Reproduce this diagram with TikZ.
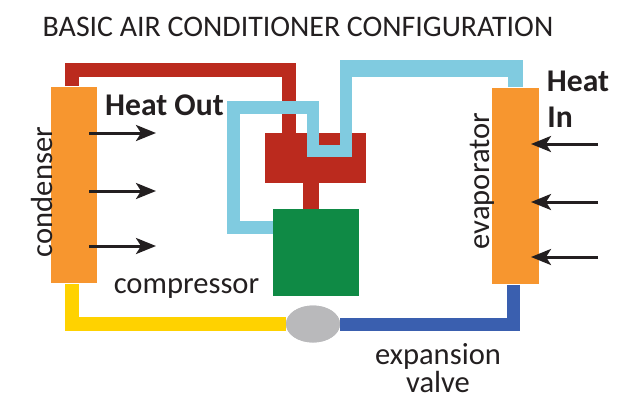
\documentclass[tikz,border=0pt]{standalone}
\usepackage{fontspec}
\setmainfont{Carlito}
\usetikzlibrary{arrows.meta,shapes.geometric}
\definecolor{hotred}{HTML}{BB2A1E}
\definecolor{coldblue}{HTML}{80CBE0}
\definecolor{coilorange}{HTML}{F7962F}
\definecolor{pumpgreen}{HTML}{0F8A45}
\definecolor{lineyellow}{HTML}{FFD200}
\definecolor{lineblue}{HTML}{3A5FAF}
\definecolor{valvegrey}{HTML}{B9B9BB}
\definecolor{inktext}{HTML}{231F20}
\tikzset{
    coil/.style={fill=coilorange,minimum width=0.93cm,minimum height=3.94cm,inner sep=0pt},
    valveshape/.style={ellipse,fill=valvegrey,minimum width=1.08cm,minimum height=0.74cm,inner sep=0pt},
    pipe/.style={line width=0.28cm,line join=miter},
    heatarrow/.style={inktext,line width=0.06cm,-{Stealth[length=0.4cm,width=0.32cm,inset=0.1cm]}},
    label/.style={inktext,font=\fontsize{17.4}{20}\selectfont,inner sep=0pt},
    heatlabel/.style={inktext,font=\fontsize{18}{20}\selectfont\bfseries,inner sep=0pt},
}
\begin{document}
\begin{tikzpicture}[x=0.02cm,y=-0.02cm]
    \useasboundingbox (0,0) rectangle (635,400);
    \node[label,font=\fontsize{17}{20}\selectfont] (title) at (298,27) {BASIC AIR CONDITIONER CONFIGURATION};

    \node[coil] (condenser) at (74,185) {};
    \node[coil] (evaporator) at (515.5,186) {};
    \node[fill=hotred,minimum width=2.02cm,minimum height=1cm,inner sep=0pt] (head) at (315.5,158) {};
    \node[fill=pumpgreen,minimum width=1.72cm,minimum height=1.74cm,inner sep=0pt] (pump) at (316,252.5) {};
    \node[valveshape] (valve) at (313,324) {};

    % hot side
    \draw[hotred,pipe] ([xshift=-0.05cm]condenser.north) -- ++(0,-16.5) -| ([xshift=-0.54cm]head.north);
    \draw[hotred,line width=0.32cm] (head.south -| 311,183) -- (pump.north -| 311,209);

    % cold side
    \draw[coldblue,line width=0.25cm] (pump.west |- 0,227.5) -| (233.5,107.5) -| (313,151) -| (346,69);
    \draw[coldblue,line width=0.35cm] (340,68.5) -- (523,68.5);
    \draw[coldblue,line width=0.3cm] (515.5,60) -- (evaporator.north -| 515.5,88);

    % liquid side
    \draw[lineyellow,pipe] ([xshift=-0.05cm]condenser.south) |- (valve.west);
    \draw[lineblue,line width=0.26cm,line join=miter] (evaporator.south -| 513,284) |- (valve.east);

    \node[coil] at (condenser) {};
    \node[coil] at (evaporator) {};
    \node[valveshape] at (valve) {};

    \foreach \n/\y in {1/133,2/191,3/246}{
        \coordinate (outa\n) at (89,\y);
        \coordinate (outb\n) at (156,\y);
        \draw[heatarrow] (outa\n) -- (outb\n);
    }
    \foreach \n/\y in {1/144,2/202,3/257}{
        \coordinate (ina\n) at (598,\y);
        \coordinate (inb\n) at (531,\y);
        \draw[heatarrow] (ina\n) -- (inb\n);
    }

    \node[label,rotate=90] (condenserlabel) at (42,192) {condenser};
    \node[label,rotate=90] (evaporatorlabel) at (482,181) {evaporator};
    \node[label] (compressorlabel) at (186.5,289) {compressor};
    \node[label] (expansionlabel) at (438,356) {expansion};
    \node[label] (valvelabel) at (438,382) {valve};
    \node[heatlabel] (heatout) at (164.5,105) {Heat Out};
    \node[heatlabel] (heatina) at (578,81) {Heat};
    \node[heatlabel,anchor=west] (heatinb) at (547,117) {In};
\end{tikzpicture}
\end{document}
